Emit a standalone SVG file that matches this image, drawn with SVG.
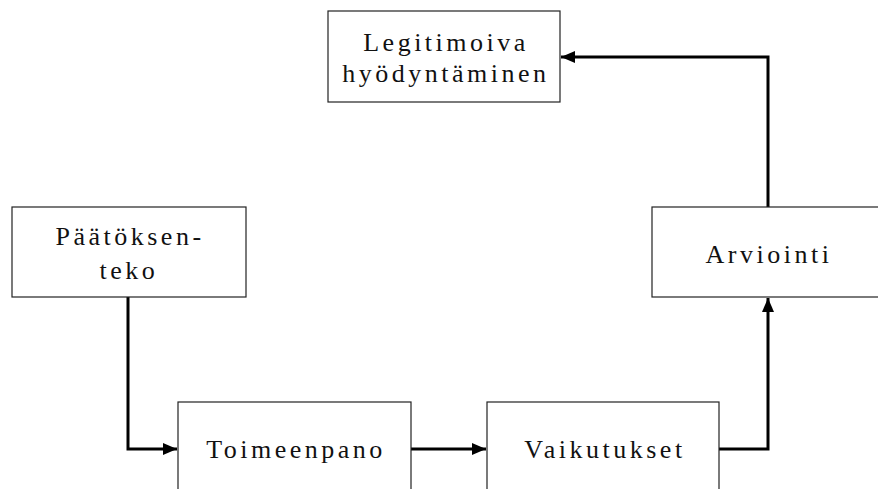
<svg xmlns="http://www.w3.org/2000/svg" width="878" height="489" viewBox="0 0 878 489">
<defs>
<style>
.box{fill:#fff;stroke:#222;stroke-width:1.2}
text{font-family:'Liberation Serif','Times New Roman',serif;font-size:26px;letter-spacing:3.5px;fill:#111;text-anchor:middle}
.con{fill:none;stroke:#000;stroke-width:3}
</style>
<marker id="ah" markerWidth="14" markerHeight="12" refX="14" refY="6" orient="auto" markerUnits="userSpaceOnUse">
<path d="M0,0 L14,6 L0,12 Z" fill="#000"/>
</marker>
</defs>
<rect width="878" height="489" fill="#fff"/>
<g id="connectors">
<path class="con" d="M128,297 V449 H177" marker-end="url(#ah)"/>
<path class="con" d="M411,449 H486" marker-end="url(#ah)"/>
<path class="con" d="M719,449 H768 V298" marker-end="url(#ah)"/>
<path class="con" d="M768,207 V57 H561" marker-end="url(#ah)"/>
</g>
<g id="legitimoiva">
<rect class="box" x="328" y="11" width="232" height="91"/>
<text x="446" y="51">Legitimoiva</text>
<text x="446" y="82">hyödyntäminen</text>
</g>
<g id="paatoksenteko">
<rect class="box" x="12" y="207" width="234" height="90"/>
<text x="130" y="245">Päätöksen-</text>
<text x="129" y="279">teko</text>
</g>
<g id="arviointi">
<rect class="box" x="652" y="207" width="236" height="90"/>
<text x="769" y="263">Arviointi</text>
</g>
<g id="toimeenpano">
<rect class="box" x="178" y="402" width="233" height="100"/>
<text x="296" y="458">Toimeenpano</text>
</g>
<g id="vaikutukset">
<rect class="box" x="487" y="402" width="232" height="100"/>
<text x="605" y="458">Vaikutukset</text>
</g>
</svg>
